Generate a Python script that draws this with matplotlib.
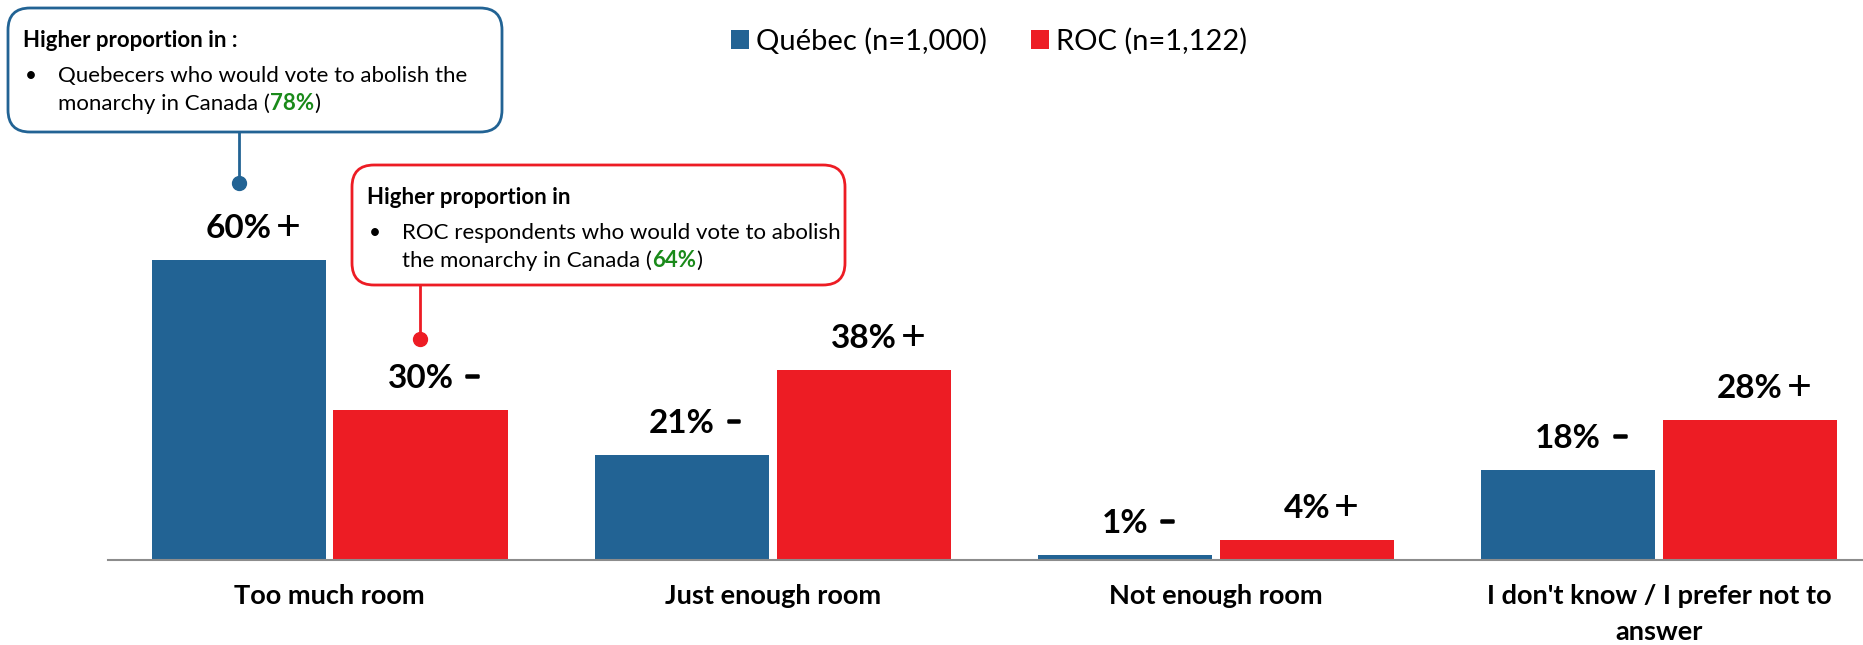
import numpy as np
import matplotlib
matplotlib.use('Agg')
import matplotlib.pyplot as plt
import matplotlib.patheffects as pe
from matplotlib.patches import FancyBboxPatch
from matplotlib.text import Annotation
from matplotlib.transforms import Affine2D, blended_transform_factory

categories = ['Too much room', 'Just enough room', 'Not enough room',
              "I don't know / I prefer not to\nanswer"]
quebec = [60, 21, 1, 18]
roc = [30, 38, 4, 28]
quebec_sig = ['+', '−', '−', '−']
roc_sig = ['−', '+', '+', '+']
legend_labels = ['Québec (n=1,000)', 'ROC (n=1,122)']

BLUE = '#226394'
RED = '#ED1C24'
GREEN = '#1A8A1A'

W, H, DPI = 1863, 645, 100
plt.rcParams['font.family'] = ['Lato', 'DejaVu Sans']

fig = plt.figure(figsize=(W / DPI, H / DPI), dpi=DPI)
ax = fig.add_axes([108 / W, 85 / H, 1 - 108 / W, 560 / H])

x = np.arange(len(categories))
w = 0.393
off = 0.205
b1 = ax.bar(x - off, quebec, w, color=BLUE, label=legend_labels[0])
b2 = ax.bar(x + off, roc, w, color=RED, label=legend_labels[1])
ax.set_xlim(-0.5, 3.46)
ax.set_ylim(0, 112)
for s in ['top', 'right', 'left']:
    ax.spines[s].set_visible(False)
ax.spines['bottom'].set_color('#8c8c8c')
ax.spines['bottom'].set_linewidth(1.5)
ax.set_yticks([])
ax.set_xticks(x)
ax.set_xticklabels(categories, fontsize=19.5, fontweight='bold', linespacing=1.6)
ax.tick_params(axis='x', length=0, pad=17)


def value_label(bar, val, sig):
    cx = bar.get_x() + bar.get_width() / 2
    t = ax.annotate(f'{val}%', (cx, val), xytext=(0, 16), textcoords='offset points',
                    ha='center', va='baseline', fontsize=24, fontweight='bold')
    if sig == '+':
        ax.annotate(sig, xy=(1, 0), xycoords=t, xytext=(3, -3), textcoords='offset points',
                    ha='left', va='bottom', fontsize=31)
    else:
        ax.annotate(sig, xy=(1, 0), xycoords=t, xytext=(8, 3), textcoords='offset points',
                    ha='left', va='bottom', fontsize=19, fontweight='bold',
                    path_effects=[pe.withStroke(linewidth=1.8, foreground='black')])


for bar, v, s in zip(b1, quebec, quebec_sig):
    value_label(bar, v, s)
for bar, v, s in zip(b2, roc, roc_sig):
    value_label(bar, v, s)

fig.legend(handles=[b1, b2], labels=legend_labels, loc='center',
           bbox_to_anchor=(989 / W, 1 - 41 / H), ncol=2, frameon=False,
           fontsize=21, handlelength=0.62, handleheight=0.62,
           handletextpad=0.25, columnspacing=1.5)

# pixel coords, origin top-left
T = Affine2D().scale(1, -1).translate(0, H).scale(1 / DPI) + fig.dpi_scale_trans
XT = blended_transform_factory(ax.transData, T)


def callout(box, color, head, line1, line2, pct, bar_x, y0, y1):
    bx, by, bw, bh = box
    fig.add_artist(FancyBboxPatch((bx, by), bw, bh,
                                  boxstyle='round,pad=0,rounding_size=22',
                                  transform=T, fc='white', ec=color, lw=2))
    fig.add_artist(plt.Line2D([bar_x, bar_x], [y0, y1], transform=XT,
                              color=color, lw=2))
    fig.add_artist(plt.Line2D([bar_x], [y1], transform=XT, marker='o',
                              markersize=10, color=color))
    fig.text(bx + 15, by + 39, head, transform=T, fontsize=16, fontweight='bold',
             va='baseline')
    fig.text(bx + 17, by + 74, '•', transform=T, fontsize=15, va='baseline')
    fig.text(bx + 50, by + 74, line1, transform=T, fontsize=16, va='baseline')
    t = fig.text(bx + 50, by + 102, line2 + ' (', transform=T, fontsize=16,
                 va='baseline')
    t2 = Annotation(pct, xy=(1, 0), xycoords=t, ha='left', va='bottom',
                    fontsize=16, fontweight='bold', color=GREEN)
    fig.add_artist(t2)
    fig.add_artist(Annotation(')', xy=(1, 0), xycoords=t2, ha='left', va='bottom',
                              fontsize=16))


callout((8, 8, 494, 124), BLUE, 'Higher proportion in :',
        'Quebecers who would vote to abolish the', 'monarchy in Canada', '78%',
        x[0] - off, 132, 183)
callout((352, 165, 493, 120), RED, 'Higher proportion in',
        'ROC respondents who would vote to abolish', 'the monarchy in Canada', '64%',
        x[0] + off, 285, 339)

fig.savefig('out.png', dpi=DPI)
